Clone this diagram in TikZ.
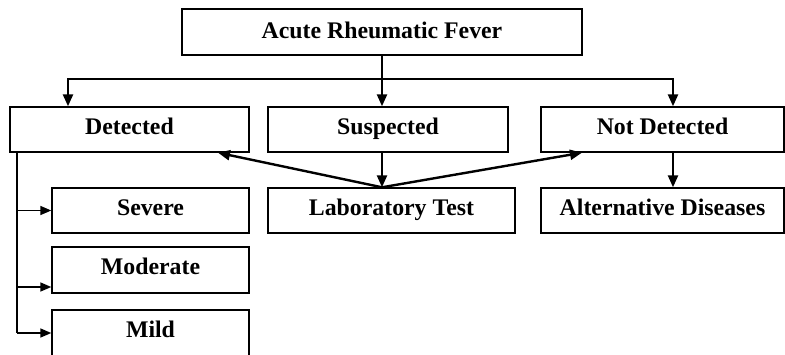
\documentclass[tikz,border=0pt]{standalone}
\usepackage{fontspec}
\setmainfont{Liberation Serif}
\usetikzlibrary{arrows.meta}
\begin{document}
\begin{tikzpicture}[x=1pt,y=-1pt,
  box/.style={draw, line width=1.4pt, inner sep=0pt, align=center,
    font=\fontsize{23.8}{26}\selectfont\bfseries, text height=16pt, text depth=7pt},
  topbox/.style={box, line width=2.4pt, text depth=3pt},
  conn/.style={line width=2.4pt, -{Triangle[length=12pt,width=10pt]}},
  thin conn/.style={line width=1.6pt, -{Triangle[length=11pt,width=9pt]}},
  ln/.style={line width=2.6pt}]
\useasboundingbox (0,0) rectangle (785,354);
\clip (0,0) rectangle (785,354);
% boxes
\node[topbox, minimum width=400pt, minimum height=46pt] (top) at (382,32) {Acute Rheumatic Fever};
\node[box, minimum width=239pt, minimum height=45pt] (det) at (129.5,129.5) {Detected};
\node[box, minimum width=240pt, minimum height=45pt] (sus) at (388,129.5) {Suspected};
\node[box, minimum width=243pt, minimum height=45pt] (nd) at (662.5,129.5) {Not Detected};
\node[box, minimum width=197pt, minimum height=45pt] (sev) at (150.5,210.5) {Severe};
\node[box, minimum width=247pt, minimum height=45pt] (lab) at (391.5,210.5) {Laboratory Test};
\node[box, minimum width=243pt, minimum height=45pt] (alt) at (662.5,210.5) {Alternative Diseases};
\node[box, minimum width=197pt, minimum height=46pt] (mod) at (150.5,270) {Moderate};
\node[box, minimum width=197pt, minimum height=46pt] (mild) at (150.5,333) {Mild};
% helper coordinates
\coordinate (bj) at (382,79);
\coordinate (lx) at (68,0);
\coordinate (rx) at (673,0);
\coordinate (dx) at (218,0);
\coordinate (nx) at (582,0);
\coordinate (sx) at (17,0);
\coordinate (mA) at (17,287);
% connectors
\draw[conn] (top.south) -- (top.south |- sus.north);
\draw[conn] (bj) -| (det.north -| lx);
\draw[conn] (bj) -| (nd.north -| rx);
\draw[conn] (sus.south -| top.south) -- (lab.north -| top.south);
\draw[conn] (nd.south -| rx) -- (alt.north -| rx);
\draw[conn] (lab.north -| top.south) -- (det.south -| dx);
\draw[conn] (lab.north -| top.south) -- (nd.south -| nx);
\draw[ln] (det.south -| sx) -- (sx |- mild.west);
\draw[thin conn] (sx |- sev.west) -- (sev.west);
\draw[thin conn] (mA) -- (mA -| mod.west);
\draw[thin conn] (sx |- mild.west) -- (mild.west);
\end{tikzpicture}
\end{document}
